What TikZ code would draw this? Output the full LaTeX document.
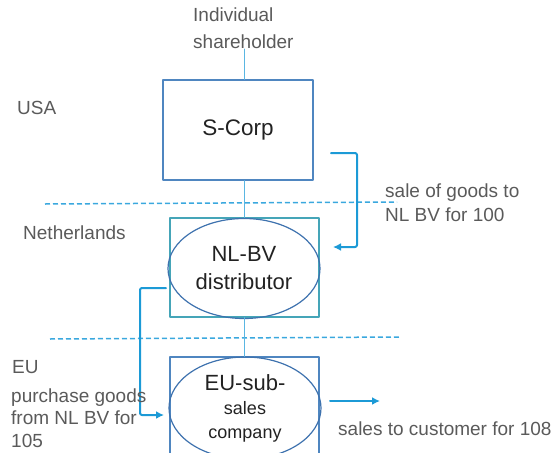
\documentclass[tikz,border=0pt]{standalone}
\usepackage{fontspec}
\setmainfont{Liberation Sans}
\usetikzlibrary{arrows.meta, shapes.geometric, positioning}

\definecolor{boxblue}{HTML}{4F86C0}
\definecolor{boxteal}{HTML}{45A5B8}
\definecolor{ovalblue}{HTML}{3E72AE}
\definecolor{flowblue}{HTML}{1C9AD6}
\definecolor{dashblue}{HTML}{3AA8DE}
\definecolor{linkblue}{HTML}{5AB6E2}
\definecolor{labelgray}{HTML}{5A5A5A}
\definecolor{nodeink}{HTML}{222222}

\begin{document}
\begin{tikzpicture}[x=1pt, y=-1pt, line join=round, line cap=round,
  label text/.style={text=labelgray, inner sep=0pt, anchor=west, align=left, font=\fontsize{19}{23}\selectfont},
  firm/.style={draw=boxblue, line width=1.3pt, inner sep=0pt, text=nodeink},
  oval/.style={ellipse, draw=ovalblue, line width=1.2pt, inner sep=0pt, text=nodeink, align=center},
  link/.style={draw=linkblue, line width=1.2pt},
  flow/.style={draw=flowblue, line width=2pt, rounded corners=2pt, -{Latex[length=8pt,width=8pt]}},
  border/.style={draw=dashblue, line width=1.5pt, line cap=butt, dash pattern=on 5pt off 3pt}]
\useasboundingbox (0,0) rectangle (555,453);

% countries
\node[label text] (usa) at (17,108) {USA};
\node[label text] (neth) at (23,233) {Netherlands};
\node[label text] (eu zone) at (12,367) {EU};
\draw[border] (45,204) -- (397,202);
\draw[border] (50,339) -- (400,337);

% entities
\node[label text, font=\fontsize{19}{27}\selectfont] (holder) at (193,28.5) {Individual\\shareholder};
\node[firm, minimum width=150pt, minimum height=100pt, font=\fontsize{22.5}{25}\selectfont] (scorp) at (238,130) {S-Corp};
\node[firm, draw=boxteal, minimum width=149pt, minimum height=99pt] (nlbox) at (244.5,267.5) {};
\node[oval, minimum width=152pt, minimum height=100pt, font=\fontsize{22}{28}\selectfont] (nl) at (244,268.5) {NL-BV\\distributor};
\node[firm, minimum width=149pt, minimum height=120pt] (eubox) at (244.5,417) {};
\node[oval, minimum width=152pt, minimum height=102pt, font=\fontsize{22}{24}\selectfont] (eu) at (245,408)
  {EU-sub-\\{\fontsize{18}{22}\selectfont sales}\\{\fontsize{18}{22}\selectfont company}};

\draw[link] (nlbox.north |- holder.south) -- (nlbox.north |- scorp.north);
\draw[link] (nlbox.north |- scorp.south) -- (nlbox.north);
\draw[link] (nlbox.south) -- (eubox.north);

% flows of goods
\coordinate (saleA) at (331,153);
\coordinate (saleB) at (333,247);
\draw[flow] (saleA) -- ++(26,0) |- (saleB);
\node[label text, font=\fontsize{19}{24}\selectfont] (sale) at (385,203) {sale of goods to\\NL BV for 100};

\coordinate (buyA) at (166,288);
\coordinate (buyB) at (164,415);
\draw[flow] (buyA) -- ++(-26,0) |- (buyB);
\node[label text, font=\fontsize{19}{22.5}\selectfont] (buy) at (11,418) {purchase goods\\from NL BV for\\105};

\coordinate (sellA) at (330,401);
\coordinate (sellB) at (380,401);
\draw[flow] (sellA) -- (sellB);
\node[label text] (sell) at (338,429) {sales to customer for 108};
\end{tikzpicture}
\end{document}
